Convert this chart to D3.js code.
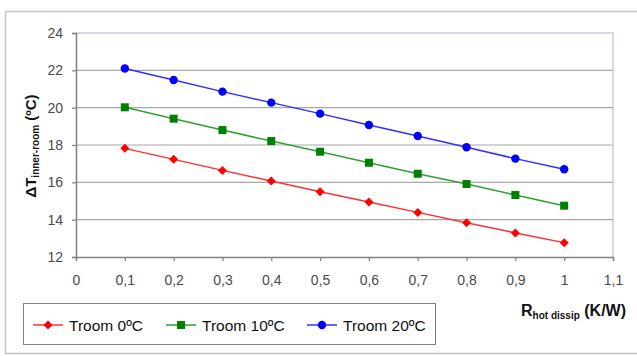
<!DOCTYPE html>
<html>
<head>
<meta charset="utf-8">
<script src="https://cdn.jsdelivr.net/npm/d3@7"></script>
<style>
  body { margin: 0; background: #fff; }
  text { font-family: Arial, "Liberation Sans", sans-serif; }
</style>
</head>
<body>
<svg id="chart" width="637" height="356"></svg>
<script>
// data
var rValues = [0.1, 0.2, 0.3, 0.4, 0.5, 0.6, 0.7, 0.8, 0.9, 1.0];
var troom0  = [17.82, 17.23, 16.64, 16.07, 15.50, 14.95, 14.39, 13.84, 13.29, 12.77];
var troom10 = [20.02, 19.41, 18.80, 18.21, 17.64, 17.05, 16.46, 15.91, 15.32, 14.75];
var troom20 = [22.10, 21.48, 20.86, 20.27, 19.68, 19.07, 18.48, 17.88, 17.27, 16.70];
var seriesNames = ["Troom 0ºC", "Troom 10ºC", "Troom 20ºC"];
var seriesColors = ["#ff0000", "#008000", "#0000ff"];
var seriesLines = ["#ff3030", "#30a030", "#3030ff"];
var xTicks = [0, 0.1, 0.2, 0.3, 0.4, 0.5, 0.6, 0.7, 0.8, 0.9, 1, 1.1];
var yTicks = [12, 14, 16, 18, 20, 22, 24];

var allSeries = [troom0, troom10, troom20];

var svg = d3.select("#chart");

// outer chart frame
svg.append("rect")
  .attr("x", 5.5).attr("y", 11.5)
  .attr("width", 636).attr("height", 342)
  .attr("fill", "none")
  .attr("stroke", "#c4c4c4")
  .attr("stroke-width", 1.5);

var x = d3.scaleLinear().domain([0, 1.1]).range([76, 613]);
var y = d3.scaleLinear().domain([12, 24]).range([257, 33]);

// grid lines
svg.append("g")
  .selectAll("line")
  .data(yTicks.slice(1, -1))
  .enter().append("line")
    .attr("x1", x(0)).attr("x2", x(1.1))
    .attr("y1", function(d) { return y(d); })
    .attr("y2", function(d) { return y(d); })
    .attr("stroke", "#a8a8a8")
    .attr("stroke-width", 1.2);

// plot border top/right (light purple)
svg.append("path")
  .attr("d", "M" + x(0) + "," + y(24) + "H" + x(1.1) + "V" + y(12))
  .attr("fill", "none")
  .attr("stroke", "#d2c6dc")
  .attr("stroke-width", 1.5);

var fmt = function(d) { return String(d).replace(".", ","); };

var xAxis = svg.append("g")
  .attr("transform", "translate(0," + y(12) + ")")
  .call(d3.axisBottom(x).tickValues(xTicks).tickFormat(fmt).tickSize(4).tickPadding(14));

var yAxis = svg.append("g")
  .attr("transform", "translate(" + x(0) + ",0)")
  .call(d3.axisLeft(y).tickValues(yTicks).tickFormat(d3.format("d")).tickSize(4).tickPadding(9));

[xAxis, yAxis].forEach(function(a) {
  a.select(".domain").attr("stroke", "#808080").attr("stroke-width", 1.5);
  a.selectAll(".tick line").attr("stroke", "#808080").attr("stroke-width", 1.2);
  a.selectAll(".tick text")
    .attr("fill", "#4a4a4a")
    .style("font-size", "14px")
    .style("font-family", "Arial, 'Liberation Sans', sans-serif");
});

var line = d3.line()
  .x(function(d, i) { return x(rValues[i]); })
  .y(function(d) { return y(d); });

function marker(sel, k, cx, cy) {
  if (k === 0) {
    sel.append("path")
      .attr("d", "M" + cx + "," + (cy - 4.5) + "L" + (cx + 4.5) + "," + cy + "L" + cx + "," + (cy + 4.5) + "L" + (cx - 4.5) + "," + cy + "Z")
      .attr("fill", seriesColors[k]);
  } else if (k === 1) {
    sel.append("rect")
      .attr("x", cx - 4).attr("y", cy - 4)
      .attr("width", 8).attr("height", 8)
      .attr("fill", seriesColors[k]);
  } else {
    sel.append("circle")
      .attr("cx", cx).attr("cy", cy).attr("r", 4.2)
      .attr("fill", seriesColors[k]);
  }
}

allSeries.forEach(function(vals, k) {
  svg.append("path")
    .attr("d", line(vals))
    .attr("fill", "none")
    .attr("stroke", seriesLines[k])
    .attr("stroke-width", 1.5);
  var g = svg.append("g");
  vals.forEach(function(v, i) { marker(g, k, x(rValues[i]), y(v)); });
});

// y axis title
var yt = svg.append("text")
  .attr("transform", "translate(36,146) rotate(-90)")
  .attr("text-anchor", "middle")
  .style("font-weight", "bold")
  .attr("fill", "#111");
yt.append("tspan").style("font-size", "15px").text("ΔT");
yt.append("tspan").style("font-size", "10px").attr("dy", 3).text("inner-room");
yt.append("tspan").style("font-size", "15px").attr("dy", -3).text(" (ºC)");

// x axis title
var xt = svg.append("text")
  .attr("x", 521).attr("y", 316)
  .style("font-weight", "bold")
  .attr("fill", "#111");
xt.append("tspan").style("font-size", "16px").text("R");
xt.append("tspan").style("font-size", "10px").attr("dy", 3).text("hot dissip");
xt.append("tspan").style("font-size", "16px").attr("dy", -3).text(" (K/W)");

// legend
svg.append("rect")
  .attr("x", 23.5).attr("y", 303.5)
  .attr("width", 412).attr("height", 41)
  .attr("fill", "#fff")
  .attr("stroke", "#808080")
  .attr("stroke-width", 1);

var legendX = [33, 166, 307];
seriesNames.forEach(function(name, k) {
  var g = svg.append("g");
  g.append("line")
    .attr("x1", legendX[k]).attr("x2", legendX[k] + 30)
    .attr("y1", 325).attr("y2", 325)
    .attr("stroke", seriesLines[k])
    .attr("stroke-width", 1.5);
  marker(g, k, legendX[k] + 15, 325);
  g.append("text")
    .attr("x", legendX[k] + 36).attr("y", 330.5)
    .style("font-size", "15.5px")
    .attr("fill", "#111")
    .text(name);
});
</script>
</body>
</html>
